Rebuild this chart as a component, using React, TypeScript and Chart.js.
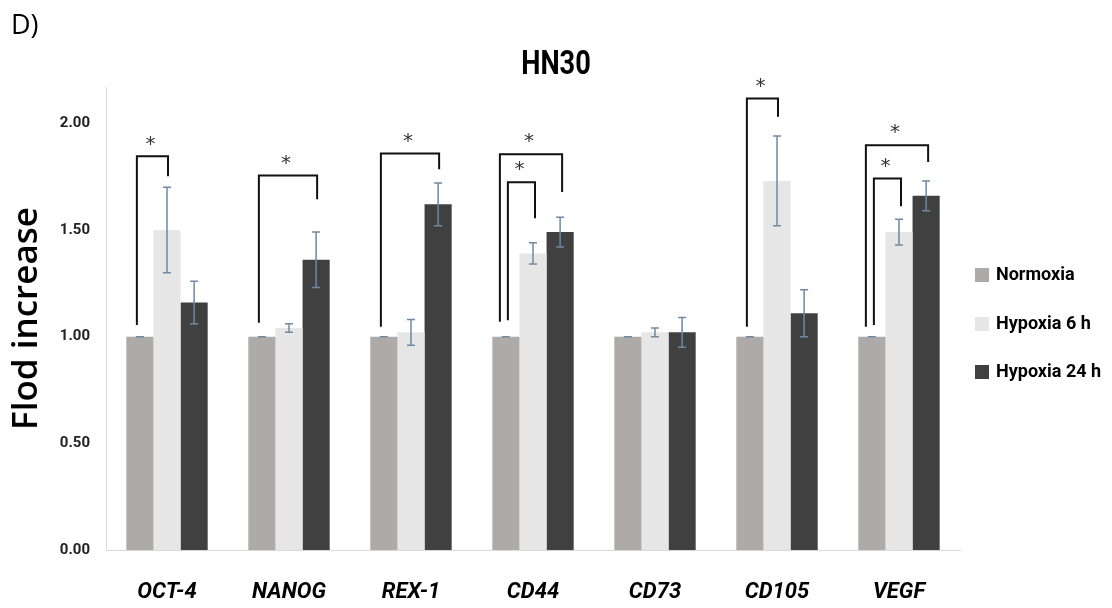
import { useEffect, useRef } from 'react';
import { Chart, registerables } from 'chart.js';

Chart.register(...registerables);

const categories = ['OCT-4', 'NANOG', 'REX-1', 'CD44', 'CD73', 'CD105', 'VEGF'];
const seriesNames = ['Normoxia', 'Hypoxia 6 h', 'Hypoxia 24 h'];
const normoxia = [1.0, 1.0, 1.0, 1.0, 1.0, 1.0, 1.0];
const hypoxia6 = [1.5, 1.04, 1.02, 1.39, 1.02, 1.73, 1.49];
const hypoxia24 = [1.16, 1.36, 1.62, 1.49, 1.02, 1.11, 1.66];
const errNormoxia = [0, 0, 0, 0, 0, 0, 0];
const errHypoxia6 = [0.2, 0.02, 0.06, 0.05, 0.02, 0.21, 0.06];
const errHypoxia24 = [0.1, 0.13, 0.1, 0.07, 0.07, 0.11, 0.07];
const yTicks = [0, 0.5, 1.0, 1.5, 2.0];
const yMax = 2.17;

// significance brackets: category, from series, to series, top value, left leg bottom, right leg bottom, nesting
const bracketCat = [0, 1, 2, 3, 3, 5, 6, 6];
const bracketFrom = [0, 0, 0, 0, 0, 0, 0, 0];
const bracketTo = [1, 2, 2, 2, 1, 1, 2, 1];
const bracketTop = [1.845, 1.755, 1.858, 1.855, 1.724, 2.116, 1.897, 1.741];
const bracketLeftEnd = [1.054, 1.065, 1.046, 1.07, 1.077, 1.046, 1.046, 1.054];
const bracketRightEnd = [1.752, 1.644, 1.785, 1.678, 1.555, 2.03, 1.819, 1.611];
const bracketLevel = ['single', 'single', 'single', 'outer', 'inner', 'single', 'outer', 'inner'];

const values = [normoxia, hypoxia6, hypoxia24];
const errors = [errNormoxia, errHypoxia6, errHypoxia24];
const colors = ['#AEAAAA', '#E7E6E6', '#404040'];
const ERR_COLOR = '#7089A3';
const FONT = "Roboto, 'Open Sans', sans-serif";

const overlay = {
  id: 'overlay',
  afterDatasetsDraw(chart: any) {
    const ctx = chart.ctx as CanvasRenderingContext2D;
    const ys = chart.scales.y;
    ctx.save();
    // error bars
    errors.forEach((errArr, di) => {
      const meta = chart.getDatasetMeta(di);
      meta.data.forEach((bar: any, i: number) => {
        const v = values[di][i];
        const e = errArr[i];
        const x = bar.x;
        const yt = ys.getPixelForValue(v + e);
        const yb = ys.getPixelForValue(v - e);
        ctx.strokeStyle = ERR_COLOR;
        ctx.lineWidth = 1.5;
        ctx.beginPath();
        ctx.moveTo(x, yt);
        ctx.lineTo(x, yb);
        ctx.moveTo(x - 4, yt);
        ctx.lineTo(x + 4, yt);
        ctx.moveTo(x - 4, yb);
        ctx.lineTo(x + 4, yb);
        ctx.stroke();
      });
    });
    // significance brackets
    bracketCat.forEach((c, k) => {
      const fromBar = chart.getDatasetMeta(bracketFrom[k]).data[c];
      const toBar = chart.getDatasetMeta(bracketTo[k]).data[c];
      const lvl = bracketLevel[k];
      const dxL = lvl === 'outer' ? -6 : lvl === 'inner' ? 2 : -3;
      const dxR = lvl === 'single' ? 1 : 2;
      const xl = fromBar.x + dxL;
      const xr = toBar.x + dxR;
      const yTop = ys.getPixelForValue(bracketTop[k]);
      const yL = ys.getPixelForValue(bracketLeftEnd[k]);
      const yR = ys.getPixelForValue(bracketRightEnd[k]);
      ctx.strokeStyle = '#111';
      ctx.lineWidth = 2;
      ctx.beginPath();
      ctx.moveTo(xl, yL);
      ctx.lineTo(xl, yTop);
      ctx.lineTo(xr, yTop);
      ctx.lineTo(xr, yR);
      ctx.stroke();
      ctx.fillStyle = '#333';
      ctx.font = "20px 'DejaVu Sans', sans-serif";
      ctx.textAlign = 'center';
      ctx.textBaseline = 'middle';
      ctx.fillText('*', (xl + xr) / 2 - 2, yTop - 12);
    });
    ctx.restore();
  },
  afterDraw(chart: any) {
    const ctx = chart.ctx as CanvasRenderingContext2D;
    ctx.save();
    ctx.fillStyle = '#000';
    ctx.textBaseline = 'alphabetic';
    ctx.textAlign = 'left';
    ctx.font = "27px 'Open Sans', sans-serif";
    ctx.fillText('D)', 11, 34);
    // title (slightly condensed)
    ctx.save();
    ctx.translate(556, 74);
    ctx.scale(0.8, 1);
    ctx.textAlign = 'center';
    ctx.font = `bold 34px ${FONT}`;
    ctx.fillText('HN30', 0, 0);
    ctx.restore();
    // legend
    const legendX = chart.chartArea.right + 15;
    const legendY = [275, 324, 372];
    seriesNames.forEach((name, i) => {
      const cy = legendY[i];
      ctx.fillStyle = colors[i];
      ctx.fillRect(legendX, cy - 7, 14, 14);
      ctx.fillStyle = '#000';
      ctx.font = `bold 18px ${FONT}`;
      ctx.textAlign = 'left';
      ctx.textBaseline = 'middle';
      ctx.fillText(name, legendX + 21, cy);
    });
    ctx.restore();
  },
};

export default function App() {
  const ref = useRef<HTMLCanvasElement>(null);
  useEffect(() => {
    if (!ref.current) return;
    const chart = new Chart(ref.current, {
      type: 'bar',
      data: {
        labels: categories,
        datasets: seriesNames.map((name, i) => ({
          label: name,
          data: values[i],
          backgroundColor: colors[i],
          borderWidth: 0,
          categoryPercentage: 0.667,
          barPercentage: 1.0,
        })),
      },
      options: {
        animation: false,
        responsive: true,
        maintainAspectRatio: false,
        layout: { padding: { top: 87, left: 0, right: 152, bottom: 0 } },
        plugins: {
          legend: { display: false },
          title: { display: false },
          tooltip: { enabled: false },
        },
        scales: {
          x: {
            grid: { display: false, drawTicks: false },
            border: { display: true, color: '#D9D9D9', width: 1 },
            ticks: {
              color: '#000',
              padding: 29,
              font: { family: FONT, size: 22, weight: 'bold', style: 'italic' },
            },
            afterFit: (s: any) => {
              s.height = 58;
            },
          },
          y: {
            min: 0,
            max: yMax,
            grid: { display: false, drawTicks: false },
            border: { display: true, color: '#D9D9D9', width: 1 },
            afterBuildTicks: (s: any) => {
              s.ticks = yTicks.map((v) => ({ value: v }));
            },
            ticks: {
              color: '#222',
              padding: 16,
              font: { family: FONT, size: 15, weight: 'bold' },
              callback: (v: any) => Number(v).toFixed(2),
            },
            title: {
              display: true,
              text: 'Flod increase',
              color: '#000',
              padding: { top: 6, bottom: 0 },
              font: { family: "'Open Sans', sans-serif", size: 35, weight: '600' },
            },
            afterFit: (s: any) => {
              s.width = 106;
            },
          },
        },
      },
      plugins: [overlay],
    });
    return () => chart.destroy();
  }, []);
  return (
    <div style={{ position: 'fixed', left: 0, top: 0, width: 1112, height: 608, background: '#fff' }}>
      <canvas ref={ref} />
    </div>
  );
}
